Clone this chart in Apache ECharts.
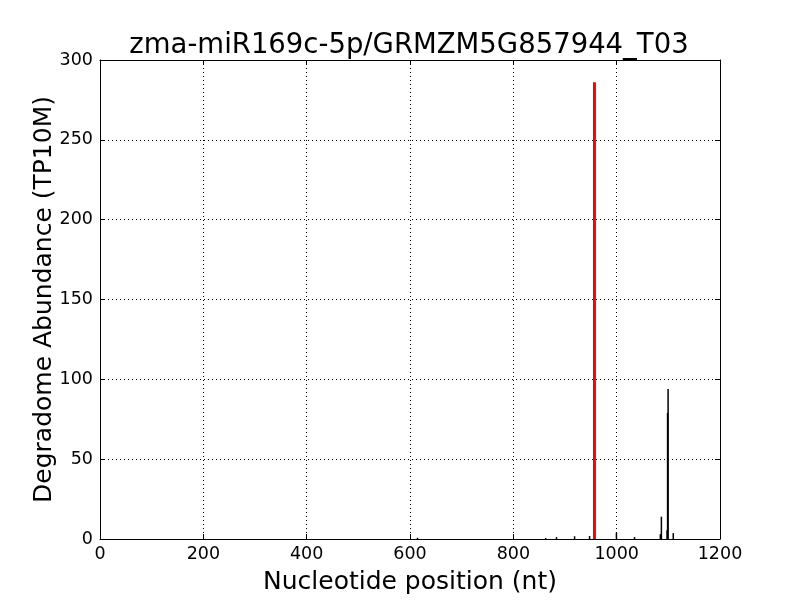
<!DOCTYPE html>
<html>
<head>
<meta charset="utf-8">
<script src="https://cdn.jsdelivr.net/npm/echarts@6/dist/echarts.min.js"></script>
<style>
  html, body { margin: 0; padding: 0; background: #fff; }
  #chart { width: 800px; height: 600px; }
</style>
</head>
<body>
<div id="chart"></div>
<script>
/* degradome reads along the transcript */
const positions = [616, 864, 885, 920, 949, 1001, 1036, 1086, 1088, 1099, 1100, 1101, 1111]
const abundance = [0.8, 0.6, 1.2, 1.7, 1.9, 4, 1.2, 3, 14, 5.5, 79, 94, 3.7]

/* predicted cleavage site */
const sitePosition = [957]
const siteAbundance = [286]

const chart = echarts.init(document.getElementById('chart'))
const font = 'DejaVu Sans'

const frameAxis = {
  axisLine: { show: true, onZero: false, lineStyle: { color: '#000', width: 1 } },
  axisTick: { show: true, inside: true, length: 5, lineStyle: { color: '#000' } },
  splitLine: { show: false },
  axisLabel: { show: false }
}

const option = {
  animation: false,
  title: {
    text: 'zma-miR169c-5p/GRMZM5G857944_T03',
    left: 404,
    top: 27,
    textAlign: 'center',
    textStyle: { fontFamily: font, fontSize: 27.5, fontWeight: 'normal', color: '#000' }
  },
  grid: { left: 100, right: 80, top: 60, bottom: 60 },
  xAxis: [{
    type: 'value',
    min: 0, max: 1200, interval: 200,
    name: 'Nucleotide position (nt)',
    nameLocation: 'middle',
    nameGap: 31,
    nameTextStyle: { fontFamily: font, fontSize: 25, color: '#000' },
    axisLine: { show: true, onZero: false, lineStyle: { color: '#000', width: 1 } },
    axisTick: { show: true, inside: true, length: 5, lineStyle: { color: '#000' } },
    axisLabel: { fontFamily: font, fontSize: 17.5, color: '#000', margin: 6, formatter: v => String(v) },
    splitLine: { show: true, lineStyle: { color: '#000', type: [1, 3], width: 1 } }
  }, Object.assign({ type: 'value', position: 'top', min: 0, max: 1200, interval: 200 }, frameAxis)],
  yAxis: [{
    type: 'value',
    min: 0, max: 300, interval: 50,
    name: 'Degradome Abundance (TP10M)',
    nameLocation: 'middle',
    nameGap: 43,
    nameMoveOverlap: false,
    nameTextStyle: { fontFamily: font, fontSize: 25, color: '#000' },
    axisLine: { show: true, onZero: false, lineStyle: { color: '#000', width: 1 } },
    axisTick: { show: true, inside: true, length: 5, lineStyle: { color: '#000' } },
    axisLabel: { fontFamily: font, fontSize: 17.5, color: '#000', margin: 7 },
    splitLine: { show: true, lineStyle: { color: '#000', type: [1, 3], width: 1 } }
  }, Object.assign({ type: 'value', position: 'right', min: 0, max: 300, interval: 50 }, frameAxis)],
  series: [{
    type: 'bar',
    barWidth: 1.5,
    itemStyle: { color: '#000' },
    data: positions.map((p, i) => [p, abundance[i]])
  }, {
    type: 'bar',
    barWidth: 3,
    barGap: '-100%',
    itemStyle: { color: '#ff0000' },
    data: sitePosition.map((p, i) => [p, siteAbundance[i]])
  }]
}

chart.setOption(option)
</script>
</body>
</html>
